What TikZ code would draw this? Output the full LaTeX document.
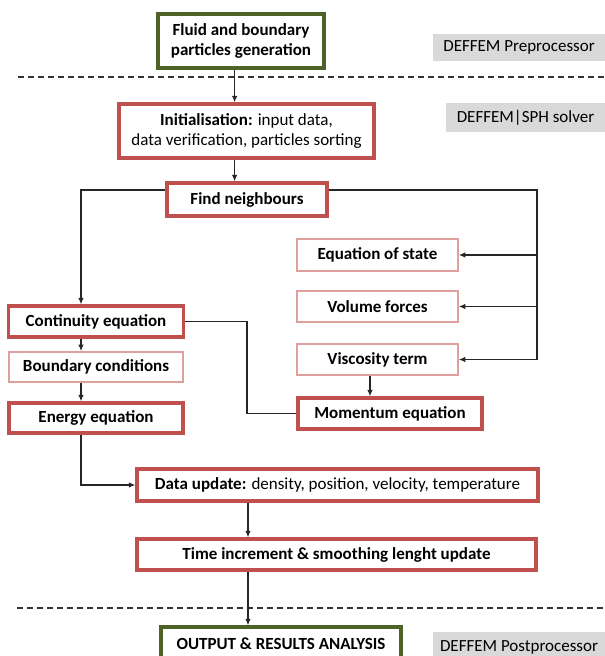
\documentclass[tikz,border=0pt]{standalone}
\usepackage{fontspec}
\setmainfont{Carlito}
\usetikzlibrary{arrows.meta}
\definecolor{redb}{HTML}{C0504D}
\definecolor{redl}{HTML}{DFA09E}
\definecolor{greenb}{HTML}{4F6228}
\definecolor{grayl}{HTML}{D9D9D9}
\tikzset{
  base/.style={rectangle, fill=white, inner sep=0pt, align=center, font=\fontsize{17}{19.5}\selectfont},
  thickbox/.style={base, draw=redb, line width=3.3pt},
  thinbox/.style={base, draw=redl, line width=1.7pt},
  greenbox/.style={base, draw=greenb, line width=3.4pt},
  graylabel/.style={rectangle, fill=grayl, inner sep=0pt, font=\fontsize{17}{19}\selectfont},
  conn/.style={draw=black!85, line width=1.1pt},
  arr/.style={conn, -{Latex[length=6.5pt,width=5.5pt]}},
  sep/.style={draw=black!80, line width=1.1pt, dash pattern=on 6pt off 4pt}
}
\begin{document}
\begin{tikzpicture}[x=1pt,y=-1pt]
\useasboundingbox (0,0) rectangle (605,656);
\clip (0,0) rectangle (605,656);
% separators
\draw[sep] (18,77) -- (605,77);
\draw[sep] (17,608) -- (605,608);
% gray labels
\node[graylabel, minimum width=172pt, minimum height=27pt] (g1) at (519,47.5) {DEFFEM Preprocessor};
\node[graylabel, minimum width=159pt, minimum height=29pt] (g2) at (525.5,117.5) {DEFFEM|SPH solver};
\node[graylabel, minimum width=172pt, minimum height=30pt] (g3) at (519,647) {DEFFEM Postprocessor};
% boxes
\node[greenbox, minimum width=166pt, minimum height=54pt] (fluid) at (241,41) {\textbf{Fluid and boundary}\\[0pt]\textbf{particles generation}};
\node[thickbox, minimum width=255pt, minimum height=54pt] (init) at (246.5,131) {\textbf{Initialisation:} input data,\\[0pt]data verification, particles sorting};
\node[thickbox, minimum width=160pt, minimum height=33pt] (find) at (247,199.5) {\textbf{Find neighbours}};
\node[thinbox, minimum width=161pt, minimum height=32pt] (eos) at (377.5,255) {\textbf{Equation of state}};
\node[thinbox, minimum width=161pt, minimum height=31pt] (vol) at (377.5,306.5) {\textbf{Volume forces}};
\node[thinbox, minimum width=161pt, minimum height=31pt] (visc) at (377.5,359.5) {\textbf{Viscosity term}};
\node[thickbox, minimum width=184pt, minimum height=31pt] (mom) at (390,413.5) {\textbf{Momentum equation}};
\node[thickbox, minimum width=175pt, minimum height=31pt] (cont) at (96,321.5) {\textbf{Continuity equation}};
\node[thinbox, minimum width=174pt, minimum height=30pt] (bc) at (96,367) {\textbf{Boundary conditions}};
\node[thickbox, minimum width=174pt, minimum height=30pt] (energy) at (96,418) {\textbf{Energy equation}};
\node[thickbox, minimum width=401pt, minimum height=32pt] (data) at (337.5,485) {\textbf{Data update:} density, position, velocity, temperature};
\node[thickbox, minimum width=399pt, minimum height=31pt] (time) at (336.5,554.5) {\textbf{Time increment \& smoothing lenght update}};
\node[greenbox, minimum width=240pt, minimum height=34pt] (out) at (281,644) {\textbf{OUTPUT \& RESULTS ANALYSIS}};
% helper coordinates
\coordinate (ax) at (234.6,0);
\coordinate (bx) at (248,0);
\coordinate (lx) at (81,0);
\coordinate (rx) at (537,0);
\coordinate (vx) at (370,0);
\coordinate (mx) at (247,0);
\coordinate (fy) at (0,190);
% connectors
\draw[arr] (ax |- fluid.south) -- (ax |- init.north);
\draw[arr] (ax |- init.south) -- (ax |- find.north);
\draw[arr] (find.west |- fy) -| (lx |- cont.north);
\draw[arr] (find.east |- fy) -| (rx |- visc.east) -- (visc.east);
\draw[arr] (rx |- eos.east) -- (eos.east);
\draw[arr] (rx |- vol.east) -- (vol.east);
\draw[arr] (vx |- visc.south) -- (vx |- mom.north);
\draw[conn] (cont.east) -| (mx |- mom.west) -- (mom.west);
\draw[arr] (lx |- cont.south) -- (lx |- bc.north);
\draw[arr] (lx |- bc.south) -- (lx |- energy.north);
\draw[arr] (lx |- energy.south) |- (data.west);
\draw[arr] (bx |- data.south) -- (bx |- time.north);
\draw[arr] (bx |- time.south) -- (bx |- out.north);
\end{tikzpicture}
\end{document}
